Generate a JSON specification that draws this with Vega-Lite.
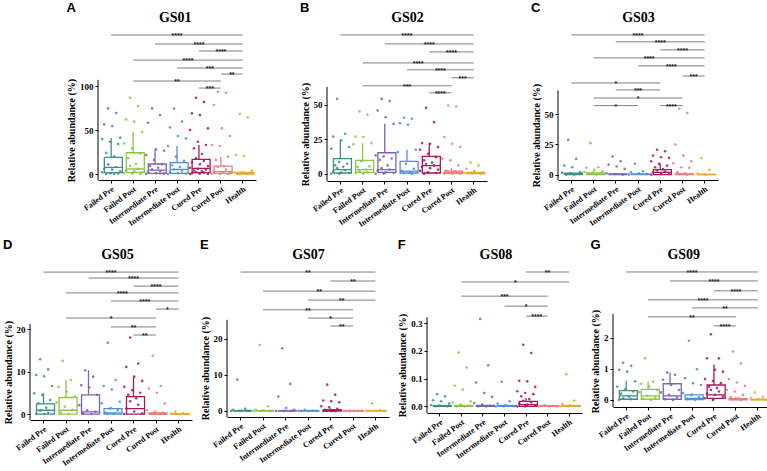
{
"$schema": "https://vega.github.io/schema/vega-lite/v6.json",
"background": "white",
"padding": {"left": 3, "top": 2, "right": 3, "bottom": 0},
"datasets": {
"pts": [
{"p":"A","g":1,"v":74.6,"k":3},{"p":"A","g":1,"v":69.3,"k":7},{"p":"A","g":1,"v":56.4,"k":1},{"p":"A","g":1,"v":54.5,"k":5},{"p":"A","g":1,"v":41.3,"k":9},{"p":"A","g":1,"v":39.8,"k":0},{"p":"A","g":1,"v":36.7,"k":4},{"p":"A","g":1,"v":34,"k":8},{"p":"A","g":1,"v":24,"k":2},{"p":"A","g":1,"v":20,"k":6},{"p":"A","g":1,"v":11,"k":3},{"p":"A","g":1,"v":8,"k":7},{"p":"A","g":1,"v":6,"k":1},{"p":"A","g":1,"v":5,"k":5},{"p":"A","g":1,"v":3,"k":9},{"p":"A","g":1,"v":2,"k":0},{"p":"A","g":1,"v":1,"k":4},{"p":"A","g":1,"v":0.5,"k":8},{"p":"A","g":1,"v":0,"k":2},{"p":"A","g":1,"v":0,"k":6},
{"p":"A","g":2,"v":86.7,"k":3},{"p":"A","g":2,"v":77.3,"k":7},{"p":"A","g":2,"v":62.1,"k":1},{"p":"A","g":2,"v":59.5,"k":5},{"p":"A","g":2,"v":47.7,"k":9},{"p":"A","g":2,"v":34.8,"k":0},{"p":"A","g":2,"v":29.2,"k":4},{"p":"A","g":2,"v":23.5,"k":8},{"p":"A","g":2,"v":18,"k":2},{"p":"A","g":2,"v":11.4,"k":6},{"p":"A","g":2,"v":9,"k":3},{"p":"A","g":2,"v":6,"k":7},{"p":"A","g":2,"v":4,"k":1},{"p":"A","g":2,"v":3,"k":5},{"p":"A","g":2,"v":1.5,"k":9},{"p":"A","g":2,"v":1,"k":0},{"p":"A","g":2,"v":0.5,"k":4},{"p":"A","g":2,"v":0,"k":8},
{"p":"A","g":3,"v":74.6,"k":3},{"p":"A","g":3,"v":67,"k":7},{"p":"A","g":3,"v":58.3,"k":1},{"p":"A","g":3,"v":28,"k":5},{"p":"A","g":3,"v":26.5,"k":9},{"p":"A","g":3,"v":21.6,"k":0},{"p":"A","g":3,"v":16,"k":4},{"p":"A","g":3,"v":11,"k":8},{"p":"A","g":3,"v":9,"k":2},{"p":"A","g":3,"v":7,"k":6},{"p":"A","g":3,"v":5,"k":3},{"p":"A","g":3,"v":3,"k":7},{"p":"A","g":3,"v":2,"k":1},{"p":"A","g":3,"v":1,"k":5},{"p":"A","g":3,"v":0.5,"k":9},{"p":"A","g":3,"v":0,"k":0},
{"p":"A","g":4,"v":74.6,"k":3},{"p":"A","g":4,"v":59.5,"k":7},{"p":"A","g":4,"v":53,"k":1},{"p":"A","g":4,"v":43.2,"k":5},{"p":"A","g":4,"v":40.5,"k":9},{"p":"A","g":4,"v":31.8,"k":0},{"p":"A","g":4,"v":19.7,"k":4},{"p":"A","g":4,"v":15,"k":8},{"p":"A","g":4,"v":10,"k":2},{"p":"A","g":4,"v":8,"k":6},{"p":"A","g":4,"v":5,"k":3},{"p":"A","g":4,"v":3,"k":7},{"p":"A","g":4,"v":2,"k":1},{"p":"A","g":4,"v":1,"k":5},{"p":"A","g":4,"v":0.5,"k":9},{"p":"A","g":4,"v":0,"k":0},
{"p":"A","g":5,"v":86.7,"k":3},{"p":"A","g":5,"v":82,"k":7},{"p":"A","g":5,"v":69,"k":1},{"p":"A","g":5,"v":67,"k":5},{"p":"A","g":5,"v":51.9,"k":9},{"p":"A","g":5,"v":50,"k":0},{"p":"A","g":5,"v":36.7,"k":4},{"p":"A","g":5,"v":33,"k":8},{"p":"A","g":5,"v":29.2,"k":2},{"p":"A","g":5,"v":22.7,"k":6},{"p":"A","g":5,"v":17.8,"k":3},{"p":"A","g":5,"v":15,"k":7},{"p":"A","g":5,"v":13,"k":1},{"p":"A","g":5,"v":11,"k":5},{"p":"A","g":5,"v":9,"k":9},{"p":"A","g":5,"v":7,"k":0},{"p":"A","g":5,"v":6,"k":4},{"p":"A","g":5,"v":5,"k":8},{"p":"A","g":5,"v":4,"k":2},{"p":"A","g":5,"v":3,"k":6},{"p":"A","g":5,"v":2,"k":3},{"p":"A","g":5,"v":1.5,"k":7},{"p":"A","g":5,"v":1,"k":1},{"p":"A","g":5,"v":0.5,"k":5},{"p":"A","g":5,"v":0,"k":9},{"p":"A","g":5,"v":0,"k":0},
{"p":"A","g":6,"v":93.6,"k":3},{"p":"A","g":6,"v":92.4,"k":7},{"p":"A","g":6,"v":78.4,"k":1},{"p":"A","g":6,"v":51.9,"k":5},{"p":"A","g":6,"v":43.2,"k":9},{"p":"A","g":6,"v":33,"k":0},{"p":"A","g":6,"v":31.8,"k":4},{"p":"A","g":6,"v":19.7,"k":8},{"p":"A","g":6,"v":16,"k":2},{"p":"A","g":6,"v":9,"k":6},{"p":"A","g":6,"v":8,"k":3},{"p":"A","g":6,"v":5,"k":7},{"p":"A","g":6,"v":3,"k":1},{"p":"A","g":6,"v":2,"k":5},{"p":"A","g":6,"v":1,"k":9},{"p":"A","g":6,"v":0.5,"k":0},{"p":"A","g":6,"v":0,"k":4},{"p":"A","g":6,"v":0,"k":8},
{"p":"A","g":7,"v":68.2,"k":3},{"p":"A","g":7,"v":64.4,"k":7},{"p":"A","g":7,"v":21.6,"k":1},{"p":"A","g":7,"v":20.5,"k":5},{"p":"A","g":7,"v":3.8,"k":9},{"p":"A","g":7,"v":2,"k":0},{"p":"A","g":7,"v":1.5,"k":4},{"p":"A","g":7,"v":1,"k":8},{"p":"A","g":7,"v":0.5,"k":2},{"p":"A","g":7,"v":0.3,"k":6},{"p":"A","g":7,"v":0,"k":3},{"p":"A","g":7,"v":0,"k":7},
{"p":"B","g":1,"v":54.3,"k":3},{"p":"B","g":1,"v":29,"k":7},{"p":"B","g":1,"v":27,"k":1},{"p":"B","g":1,"v":24.2,"k":5},{"p":"B","g":1,"v":19.3,"k":9},{"p":"B","g":1,"v":18.1,"k":0},{"p":"B","g":1,"v":8.5,"k":4},{"p":"B","g":1,"v":7.2,"k":8},{"p":"B","g":1,"v":6,"k":2},{"p":"B","g":1,"v":5,"k":6},{"p":"B","g":1,"v":4,"k":3},{"p":"B","g":1,"v":2.5,"k":7},{"p":"B","g":1,"v":1.5,"k":1},{"p":"B","g":1,"v":1,"k":5},{"p":"B","g":1,"v":0.5,"k":9},{"p":"B","g":1,"v":0,"k":0},{"p":"B","g":1,"v":0,"k":4},
{"p":"B","g":2,"v":45.2,"k":3},{"p":"B","g":2,"v":42.8,"k":7},{"p":"B","g":2,"v":27,"k":1},{"p":"B","g":2,"v":26.6,"k":5},{"p":"B","g":2,"v":22.2,"k":9},{"p":"B","g":2,"v":21.3,"k":0},{"p":"B","g":2,"v":9,"k":4},{"p":"B","g":2,"v":5.3,"k":8},{"p":"B","g":2,"v":5,"k":2},{"p":"B","g":2,"v":3,"k":6},{"p":"B","g":2,"v":2,"k":3},{"p":"B","g":2,"v":1,"k":7},{"p":"B","g":2,"v":0.5,"k":1},{"p":"B","g":2,"v":0,"k":5},
{"p":"B","g":3,"v":54.3,"k":3},{"p":"B","g":3,"v":52.7,"k":7},{"p":"B","g":3,"v":45.9,"k":1},{"p":"B","g":3,"v":41,"k":5},{"p":"B","g":3,"v":36.2,"k":9},{"p":"B","g":3,"v":13.3,"k":0},{"p":"B","g":3,"v":12.6,"k":4},{"p":"B","g":3,"v":11,"k":8},{"p":"B","g":3,"v":10,"k":2},{"p":"B","g":3,"v":6,"k":6},{"p":"B","g":3,"v":4,"k":3},{"p":"B","g":3,"v":3,"k":7},{"p":"B","g":3,"v":2,"k":1},{"p":"B","g":3,"v":1,"k":5},{"p":"B","g":3,"v":0.5,"k":9},{"p":"B","g":3,"v":0,"k":0},{"p":"B","g":3,"v":0,"k":4},
{"p":"B","g":4,"v":40.6,"k":3},{"p":"B","g":4,"v":39.9,"k":7},{"p":"B","g":4,"v":36.7,"k":1},{"p":"B","g":4,"v":35.5,"k":5},{"p":"B","g":4,"v":17.4,"k":9},{"p":"B","g":4,"v":15.7,"k":0},{"p":"B","g":4,"v":7.2,"k":4},{"p":"B","g":4,"v":3.6,"k":8},{"p":"B","g":4,"v":2,"k":2},{"p":"B","g":4,"v":1,"k":6},{"p":"B","g":4,"v":0.5,"k":3},{"p":"B","g":4,"v":0,"k":7},
{"p":"B","g":5,"v":47.8,"k":3},{"p":"B","g":5,"v":37.4,"k":7},{"p":"B","g":5,"v":22.2,"k":1},{"p":"B","g":5,"v":21.7,"k":5},{"p":"B","g":5,"v":19.3,"k":9},{"p":"B","g":5,"v":17.4,"k":0},{"p":"B","g":5,"v":14.5,"k":4},{"p":"B","g":5,"v":12,"k":8},{"p":"B","g":5,"v":9.7,"k":2},{"p":"B","g":5,"v":8,"k":6},{"p":"B","g":5,"v":7,"k":3},{"p":"B","g":5,"v":6,"k":7},{"p":"B","g":5,"v":5,"k":1},{"p":"B","g":5,"v":4,"k":5},{"p":"B","g":5,"v":3,"k":9},{"p":"B","g":5,"v":2,"k":0},{"p":"B","g":5,"v":1,"k":4},{"p":"B","g":5,"v":0.5,"k":8},{"p":"B","g":5,"v":0,"k":2},
{"p":"B","g":6,"v":49.5,"k":3},{"p":"B","g":6,"v":48.8,"k":7},{"p":"B","g":6,"v":26.6,"k":1},{"p":"B","g":6,"v":21.7,"k":5},{"p":"B","g":6,"v":19.3,"k":9},{"p":"B","g":6,"v":10.9,"k":0},{"p":"B","g":6,"v":9.7,"k":4},{"p":"B","g":6,"v":6,"k":8},{"p":"B","g":6,"v":2,"k":2},{"p":"B","g":6,"v":1.5,"k":6},{"p":"B","g":6,"v":1,"k":3},{"p":"B","g":6,"v":0.5,"k":7},{"p":"B","g":6,"v":0.2,"k":1},{"p":"B","g":6,"v":0,"k":5},{"p":"B","g":6,"v":0,"k":9},
{"p":"B","g":7,"v":8,"k":3},{"p":"B","g":7,"v":6,"k":7},{"p":"B","g":7,"v":3.6,"k":1},{"p":"B","g":7,"v":1.9,"k":5},{"p":"B","g":7,"v":1,"k":9},{"p":"B","g":7,"v":0.5,"k":0},{"p":"B","g":7,"v":0.2,"k":4},{"p":"B","g":7,"v":0,"k":8},
{"p":"C","g":1,"v":28.9,"k":3},{"p":"C","g":1,"v":13,"k":7},{"p":"C","g":1,"v":7.5,"k":1},{"p":"C","g":1,"v":6.1,"k":5},{"p":"C","g":1,"v":2,"k":9},{"p":"C","g":1,"v":1.5,"k":0},{"p":"C","g":1,"v":1,"k":4},{"p":"C","g":1,"v":0.5,"k":8},{"p":"C","g":1,"v":0,"k":2},{"p":"C","g":1,"v":0,"k":6},
{"p":"C","g":2,"v":26.1,"k":3},{"p":"C","g":2,"v":6.1,"k":7},{"p":"C","g":2,"v":5.6,"k":1},{"p":"C","g":2,"v":3.9,"k":5},{"p":"C","g":2,"v":2.5,"k":9},{"p":"C","g":2,"v":2,"k":0},{"p":"C","g":2,"v":1.5,"k":4},{"p":"C","g":2,"v":1,"k":8},{"p":"C","g":2,"v":0.5,"k":2},{"p":"C","g":2,"v":0,"k":6},
{"p":"C","g":3,"v":15,"k":3},{"p":"C","g":3,"v":11.1,"k":7},{"p":"C","g":3,"v":8.3,"k":1},{"p":"C","g":3,"v":6.7,"k":5},{"p":"C","g":3,"v":4.7,"k":9},{"p":"C","g":3,"v":1,"k":0},{"p":"C","g":3,"v":0.5,"k":4},{"p":"C","g":3,"v":0,"k":8},
{"p":"C","g":4,"v":8.9,"k":3},{"p":"C","g":4,"v":2.8,"k":7},{"p":"C","g":4,"v":1.9,"k":1},{"p":"C","g":4,"v":1,"k":5},{"p":"C","g":4,"v":0.5,"k":9},{"p":"C","g":4,"v":0,"k":0},
{"p":"C","g":5,"v":20.6,"k":3},{"p":"C","g":5,"v":19.4,"k":7},{"p":"C","g":5,"v":15.8,"k":1},{"p":"C","g":5,"v":14.4,"k":5},{"p":"C","g":5,"v":13.9,"k":9},{"p":"C","g":5,"v":11.1,"k":0},{"p":"C","g":5,"v":8.9,"k":4},{"p":"C","g":5,"v":7.5,"k":8},{"p":"C","g":5,"v":6.1,"k":2},{"p":"C","g":5,"v":4.5,"k":6},{"p":"C","g":5,"v":3.5,"k":3},{"p":"C","g":5,"v":2.5,"k":7},{"p":"C","g":5,"v":1.9,"k":1},{"p":"C","g":5,"v":1,"k":5},{"p":"C","g":5,"v":0.5,"k":9},{"p":"C","g":5,"v":0,"k":0},
{"p":"C","g":6,"v":54.7,"k":3},{"p":"C","g":6,"v":51.1,"k":7},{"p":"C","g":6,"v":25,"k":1},{"p":"C","g":6,"v":15.8,"k":5},{"p":"C","g":6,"v":11.1,"k":9},{"p":"C","g":6,"v":9.4,"k":0},{"p":"C","g":6,"v":6.1,"k":4},{"p":"C","g":6,"v":5.6,"k":8},{"p":"C","g":6,"v":2,"k":2},{"p":"C","g":6,"v":1,"k":6},{"p":"C","g":6,"v":0.5,"k":3},{"p":"C","g":6,"v":0,"k":7},
{"p":"C","g":7,"v":13.6,"k":3},{"p":"C","g":7,"v":3.9,"k":7},{"p":"C","g":7,"v":1,"k":1},{"p":"C","g":7,"v":0,"k":5},
{"p":"D","g":1,"v":12.9,"k":3},{"p":"D","g":1,"v":10.5,"k":7},{"p":"D","g":1,"v":9.2,"k":1},{"p":"D","g":1,"v":8.9,"k":5},{"p":"D","g":1,"v":6.6,"k":9},{"p":"D","g":1,"v":4.9,"k":0},{"p":"D","g":1,"v":4.5,"k":4},{"p":"D","g":1,"v":3.3,"k":8},{"p":"D","g":1,"v":2.5,"k":2},{"p":"D","g":1,"v":1.5,"k":6},{"p":"D","g":1,"v":0.8,"k":3},{"p":"D","g":1,"v":0.3,"k":7},{"p":"D","g":1,"v":0,"k":1},{"p":"D","g":1,"v":0,"k":5},
{"p":"D","g":2,"v":12.5,"k":3},{"p":"D","g":2,"v":8,"k":7},{"p":"D","g":2,"v":6.4,"k":1},{"p":"D","g":2,"v":5.3,"k":5},{"p":"D","g":2,"v":4.1,"k":9},{"p":"D","g":2,"v":2.7,"k":0},{"p":"D","g":2,"v":1.7,"k":4},{"p":"D","g":2,"v":1,"k":8},{"p":"D","g":2,"v":0.3,"k":2},{"p":"D","g":2,"v":0,"k":6},
{"p":"D","g":3,"v":10.3,"k":3},{"p":"D","g":3,"v":8.8,"k":7},{"p":"D","g":3,"v":6.8,"k":1},{"p":"D","g":3,"v":6.3,"k":5},{"p":"D","g":3,"v":4.5,"k":9},{"p":"D","g":3,"v":2.1,"k":0},{"p":"D","g":3,"v":0.9,"k":4},{"p":"D","g":3,"v":0.5,"k":8},{"p":"D","g":3,"v":0.2,"k":2},{"p":"D","g":3,"v":0,"k":6},
{"p":"D","g":4,"v":16.8,"k":3},{"p":"D","g":4,"v":8,"k":7},{"p":"D","g":4,"v":6.6,"k":1},{"p":"D","g":4,"v":5.8,"k":5},{"p":"D","g":4,"v":2.9,"k":9},{"p":"D","g":4,"v":2.5,"k":0},{"p":"D","g":4,"v":1.3,"k":4},{"p":"D","g":4,"v":0.9,"k":8},{"p":"D","g":4,"v":0.3,"k":2},{"p":"D","g":4,"v":0,"k":6},{"p":"D","g":4,"v":0,"k":3},
{"p":"D","g":5,"v":18,"k":3},{"p":"D","g":5,"v":11.9,"k":7},{"p":"D","g":5,"v":11.1,"k":1},{"p":"D","g":5,"v":8.8,"k":5},{"p":"D","g":5,"v":7.8,"k":9},{"p":"D","g":5,"v":6.4,"k":0},{"p":"D","g":5,"v":5.6,"k":4},{"p":"D","g":5,"v":5,"k":8},{"p":"D","g":5,"v":4.5,"k":2},{"p":"D","g":5,"v":3.7,"k":6},{"p":"D","g":5,"v":3,"k":3},{"p":"D","g":5,"v":2.2,"k":7},{"p":"D","g":5,"v":1.3,"k":1},{"p":"D","g":5,"v":0.6,"k":5},{"p":"D","g":5,"v":0.2,"k":9},{"p":"D","g":5,"v":0,"k":0},
{"p":"D","g":6,"v":13.7,"k":3},{"p":"D","g":6,"v":6.6,"k":7},{"p":"D","g":6,"v":6,"k":1},{"p":"D","g":6,"v":5,"k":5},{"p":"D","g":6,"v":2.5,"k":9},{"p":"D","g":6,"v":0.9,"k":0},{"p":"D","g":6,"v":0.5,"k":4},{"p":"D","g":6,"v":0.3,"k":8},{"p":"D","g":6,"v":0.1,"k":2},{"p":"D","g":6,"v":0,"k":6},{"p":"D","g":6,"v":0,"k":3},
{"p":"D","g":7,"v":0.5,"k":3},{"p":"D","g":7,"v":0.2,"k":7},{"p":"D","g":7,"v":0.1,"k":1},{"p":"D","g":7,"v":0,"k":5},{"p":"D","g":7,"v":0,"k":9},
{"p":"E","g":1,"v":8.7,"k":3},{"p":"E","g":1,"v":0.6,"k":7},{"p":"E","g":1,"v":0.3,"k":1},{"p":"E","g":1,"v":0.1,"k":5},{"p":"E","g":1,"v":0,"k":9},{"p":"E","g":1,"v":0,"k":0},{"p":"E","g":1,"v":0,"k":4},{"p":"E","g":1,"v":0,"k":8},
{"p":"E","g":2,"v":18.3,"k":3},{"p":"E","g":2,"v":1.3,"k":7},{"p":"E","g":2,"v":0.3,"k":1},{"p":"E","g":2,"v":0.1,"k":5},{"p":"E","g":2,"v":0,"k":9},{"p":"E","g":2,"v":0,"k":0},{"p":"E","g":2,"v":0,"k":4},{"p":"E","g":2,"v":0,"k":8},
{"p":"E","g":3,"v":17.4,"k":3},{"p":"E","g":3,"v":7.5,"k":7},{"p":"E","g":3,"v":4,"k":1},{"p":"E","g":3,"v":0.8,"k":5},{"p":"E","g":3,"v":0.3,"k":9},{"p":"E","g":3,"v":0,"k":0},{"p":"E","g":3,"v":0,"k":4},{"p":"E","g":3,"v":0,"k":8},
{"p":"E","g":4,"v":0.3,"k":3},{"p":"E","g":4,"v":0.1,"k":7},{"p":"E","g":4,"v":0,"k":1},{"p":"E","g":4,"v":0,"k":5},{"p":"E","g":4,"v":0,"k":9},{"p":"E","g":4,"v":0,"k":0},
{"p":"E","g":5,"v":7.3,"k":3},{"p":"E","g":5,"v":4.5,"k":7},{"p":"E","g":5,"v":2.9,"k":1},{"p":"E","g":5,"v":2.7,"k":5},{"p":"E","g":5,"v":2.4,"k":9},{"p":"E","g":5,"v":1.3,"k":0},{"p":"E","g":5,"v":1,"k":4},{"p":"E","g":5,"v":0.6,"k":8},{"p":"E","g":5,"v":0.3,"k":2},{"p":"E","g":5,"v":0.1,"k":6},{"p":"E","g":5,"v":0,"k":3},{"p":"E","g":5,"v":0,"k":7},{"p":"E","g":5,"v":0,"k":1},{"p":"E","g":5,"v":0,"k":5},
{"p":"E","g":6,"v":0,"k":3},{"p":"E","g":6,"v":0,"k":7},{"p":"E","g":6,"v":0,"k":1},{"p":"E","g":6,"v":0,"k":5},{"p":"E","g":6,"v":0,"k":9},{"p":"E","g":6,"v":0,"k":0},
{"p":"E","g":7,"v":2.1,"k":3},{"p":"E","g":7,"v":0.2,"k":7},{"p":"E","g":7,"v":0,"k":1},{"p":"E","g":7,"v":0,"k":5},{"p":"E","g":7,"v":0,"k":9},{"p":"E","g":7,"v":0,"k":0},
{"p":"F","g":1,"v":0.044,"k":3},{"p":"F","g":1,"v":0.036,"k":7},{"p":"F","g":1,"v":0.022,"k":1},{"p":"F","g":1,"v":0.018,"k":5},{"p":"F","g":1,"v":0.01,"k":9},{"p":"F","g":1,"v":0.005,"k":0},{"p":"F","g":1,"v":0.002,"k":4},{"p":"F","g":1,"v":0,"k":8},{"p":"F","g":1,"v":0,"k":2},
{"p":"F","g":2,"v":0.194,"k":3},{"p":"F","g":2,"v":0.14,"k":7},{"p":"F","g":2,"v":0.074,"k":1},{"p":"F","g":2,"v":0.06,"k":5},{"p":"F","g":2,"v":0.018,"k":9},{"p":"F","g":2,"v":0.014,"k":0},{"p":"F","g":2,"v":0.006,"k":4},{"p":"F","g":2,"v":0.002,"k":8},{"p":"F","g":2,"v":0,"k":2},{"p":"F","g":2,"v":0,"k":6},
{"p":"F","g":3,"v":0.315,"k":3},{"p":"F","g":3,"v":0.148,"k":7},{"p":"F","g":3,"v":0.086,"k":1},{"p":"F","g":3,"v":0.048,"k":5},{"p":"F","g":3,"v":0.034,"k":9},{"p":"F","g":3,"v":0.012,"k":0},{"p":"F","g":3,"v":0.006,"k":4},{"p":"F","g":3,"v":0.002,"k":8},{"p":"F","g":3,"v":0,"k":2},{"p":"F","g":3,"v":0,"k":6},
{"p":"F","g":4,"v":0.088,"k":3},{"p":"F","g":4,"v":0.018,"k":7},{"p":"F","g":4,"v":0.01,"k":1},{"p":"F","g":4,"v":0.004,"k":5},{"p":"F","g":4,"v":0.001,"k":9},{"p":"F","g":4,"v":0,"k":0},{"p":"F","g":4,"v":0,"k":4},
{"p":"F","g":5,"v":0.222,"k":3},{"p":"F","g":5,"v":0.192,"k":7},{"p":"F","g":5,"v":0.092,"k":1},{"p":"F","g":5,"v":0.09,"k":5},{"p":"F","g":5,"v":0.07,"k":9},{"p":"F","g":5,"v":0.054,"k":0},{"p":"F","g":5,"v":0.048,"k":4},{"p":"F","g":5,"v":0.044,"k":8},{"p":"F","g":5,"v":0.036,"k":2},{"p":"F","g":5,"v":0.026,"k":6},{"p":"F","g":5,"v":0.02,"k":3},{"p":"F","g":5,"v":0.015,"k":7},{"p":"F","g":5,"v":0.01,"k":1},{"p":"F","g":5,"v":0.006,"k":5},{"p":"F","g":5,"v":0.003,"k":9},{"p":"F","g":5,"v":0,"k":0},{"p":"F","g":5,"v":0,"k":4},
{"p":"F","g":6,"v":0.004,"k":3},{"p":"F","g":6,"v":0.002,"k":7},{"p":"F","g":6,"v":0.001,"k":1},{"p":"F","g":6,"v":0,"k":5},{"p":"F","g":6,"v":0,"k":9},{"p":"F","g":6,"v":0,"k":0},
{"p":"F","g":7,"v":0.116,"k":3},{"p":"F","g":7,"v":0.02,"k":7},{"p":"F","g":7,"v":0.008,"k":1},{"p":"F","g":7,"v":0.004,"k":5},{"p":"F","g":7,"v":0.001,"k":9},{"p":"F","g":7,"v":0,"k":0},{"p":"F","g":7,"v":0,"k":4},
{"p":"G","g":1,"v":1.2,"k":3},{"p":"G","g":1,"v":1.1,"k":7},{"p":"G","g":1,"v":0.97,"k":1},{"p":"G","g":1,"v":0.91,"k":5},{"p":"G","g":1,"v":0.6,"k":9},{"p":"G","g":1,"v":0.43,"k":0},{"p":"G","g":1,"v":0.34,"k":4},{"p":"G","g":1,"v":0.27,"k":8},{"p":"G","g":1,"v":0.2,"k":2},{"p":"G","g":1,"v":0.1,"k":6},{"p":"G","g":1,"v":0.05,"k":3},{"p":"G","g":1,"v":0.02,"k":7},{"p":"G","g":1,"v":0,"k":1},
{"p":"G","g":2,"v":1.34,"k":3},{"p":"G","g":2,"v":0.59,"k":7},{"p":"G","g":2,"v":0.52,"k":1},{"p":"G","g":2,"v":0.43,"k":5},{"p":"G","g":2,"v":0.32,"k":9},{"p":"G","g":2,"v":0.25,"k":0},{"p":"G","g":2,"v":0.13,"k":4},{"p":"G","g":2,"v":0.08,"k":8},{"p":"G","g":2,"v":0.03,"k":2},{"p":"G","g":2,"v":0,"k":6},
{"p":"G","g":3,"v":0.88,"k":3},{"p":"G","g":3,"v":0.81,"k":7},{"p":"G","g":3,"v":0.65,"k":1},{"p":"G","g":3,"v":0.48,"k":5},{"p":"G","g":3,"v":0.32,"k":9},{"p":"G","g":3,"v":0.24,"k":0},{"p":"G","g":3,"v":0.16,"k":4},{"p":"G","g":3,"v":0.08,"k":8},{"p":"G","g":3,"v":0.02,"k":2},{"p":"G","g":3,"v":0,"k":6},
{"p":"G","g":4,"v":1.91,"k":3},{"p":"G","g":4,"v":0.99,"k":7},{"p":"G","g":4,"v":0.7,"k":1},{"p":"G","g":4,"v":0.54,"k":5},{"p":"G","g":4,"v":0.48,"k":9},{"p":"G","g":4,"v":0.22,"k":0},{"p":"G","g":4,"v":0.15,"k":4},{"p":"G","g":4,"v":0.08,"k":8},{"p":"G","g":4,"v":0.02,"k":2},{"p":"G","g":4,"v":0,"k":6},
{"p":"G","g":5,"v":2.12,"k":3},{"p":"G","g":5,"v":1.34,"k":7},{"p":"G","g":5,"v":1.34,"k":1},{"p":"G","g":5,"v":0.97,"k":5},{"p":"G","g":5,"v":0.91,"k":9},{"p":"G","g":5,"v":0.67,"k":0},{"p":"G","g":5,"v":0.61,"k":4},{"p":"G","g":5,"v":0.54,"k":8},{"p":"G","g":5,"v":0.43,"k":2},{"p":"G","g":5,"v":0.38,"k":6},{"p":"G","g":5,"v":0.32,"k":3},{"p":"G","g":5,"v":0.27,"k":7},{"p":"G","g":5,"v":0.2,"k":1},{"p":"G","g":5,"v":0.16,"k":5},{"p":"G","g":5,"v":0.1,"k":9},{"p":"G","g":5,"v":0.05,"k":0},{"p":"G","g":5,"v":0,"k":4},
{"p":"G","g":6,"v":1.56,"k":3},{"p":"G","g":6,"v":1.18,"k":7},{"p":"G","g":6,"v":0.67,"k":1},{"p":"G","g":6,"v":0.56,"k":5},{"p":"G","g":6,"v":0.45,"k":9},{"p":"G","g":6,"v":0.32,"k":0},{"p":"G","g":6,"v":0.27,"k":4},{"p":"G","g":6,"v":0.16,"k":8},{"p":"G","g":6,"v":0.08,"k":2},{"p":"G","g":6,"v":0.05,"k":6},{"p":"G","g":6,"v":0.02,"k":3},{"p":"G","g":6,"v":0,"k":7},
{"p":"G","g":7,"v":0.24,"k":3},{"p":"G","g":7,"v":0.09,"k":7},{"p":"G","g":7,"v":0.05,"k":1},{"p":"G","g":7,"v":0.02,"k":5},{"p":"G","g":7,"v":0,"k":9}
],
"box": [
{"p":"A","g":1,"lo":0,"q1":1.5,"md":7.5,"q3":19,"hi":41},{"p":"A","g":2,"lo":0,"q1":1.9,"md":5.7,"q3":24.2,"hi":47.7},{"p":"A","g":3,"lo":0,"q1":0.8,"md":4.5,"q3":11.4,"hi":28},{"p":"A","g":4,"lo":0,"q1":0.8,"md":5.3,"q3":12.9,"hi":31.8},{"p":"A","g":5,"lo":0,"q1":1.5,"md":6.4,"q3":16.7,"hi":33},{"p":"A","g":6,"lo":0,"q1":0.8,"md":2.7,"q3":9,"hi":19.7},{"p":"A","g":7,"lo":0,"q1":0,"md":0.8,"q3":1.9,"hi":3.8},
{"p":"B","g":1,"lo":0,"q1":0.5,"md":2.9,"q3":10.9,"hi":24.2},{"p":"B","g":2,"lo":0,"q1":1,"md":2.9,"q3":9.7,"hi":22.2},{"p":"B","g":3,"lo":0,"q1":1,"md":2.9,"q3":15.2,"hi":36.2},{"p":"B","g":4,"lo":0,"q1":0.5,"md":1.9,"q3":8.9,"hi":17.4},{"p":"B","g":5,"lo":0,"q1":0.5,"md":5.8,"q3":12.6,"hi":22.2},{"p":"B","g":6,"lo":0,"q1":0.2,"md":1,"q3":1.9,"hi":4},{"p":"B","g":7,"lo":0,"q1":0,"md":0.5,"q3":1,"hi":2},
{"p":"C","g":1,"lo":0,"q1":0,"md":0.3,"q3":1.1,"hi":2},{"p":"C","g":2,"lo":0,"q1":0,"md":0.5,"q3":1.4,"hi":3},{"p":"C","g":3,"lo":0,"q1":0,"md":0.2,"q3":0.6,"hi":1.3},{"p":"C","g":4,"lo":0,"q1":0,"md":0.2,"q3":0.5,"hi":1},{"p":"C","g":5,"lo":0,"q1":0,"md":1.9,"q3":4.2,"hi":8.9},{"p":"C","g":6,"lo":0,"q1":0,"md":0.2,"q3":0.6,"hi":1.5},{"p":"C","g":7,"lo":0,"q1":0,"md":0,"q3":0.3,"hi":0.6},
{"p":"D","g":1,"lo":0,"q1":0,"md":0.9,"q3":2.4,"hi":4.9},{"p":"D","g":2,"lo":0,"q1":0,"md":0.9,"q3":3.9,"hi":8},{"p":"D","g":3,"lo":0,"q1":0,"md":0.5,"q3":4.5,"hi":10.3},{"p":"D","g":4,"lo":0,"q1":0,"md":0.3,"q3":1.3,"hi":1.7},{"p":"D","g":5,"lo":0,"q1":0,"md":1.3,"q3":4.1,"hi":8.8},{"p":"D","g":6,"lo":0,"q1":0,"md":0,"q3":0.3,"hi":0.6},{"p":"D","g":7,"lo":0,"q1":0,"md":0,"q3":0.1,"hi":0.2},
{"p":"E","g":1,"lo":0,"q1":0,"md":0,"q3":0.05,"hi":0.1},{"p":"E","g":2,"lo":0,"q1":0,"md":0,"q3":0.05,"hi":0.1},{"p":"E","g":3,"lo":0,"q1":0,"md":0,"q3":0.05,"hi":0.1},{"p":"E","g":4,"lo":0,"q1":0,"md":0,"q3":0.05,"hi":0.1},{"p":"E","g":5,"lo":0,"q1":0,"md":0,"q3":0.3,"hi":0.7},{"p":"E","g":6,"lo":0,"q1":0,"md":0,"q3":0,"hi":0},{"p":"E","g":7,"lo":0,"q1":0,"md":0,"q3":0.05,"hi":0.1},
{"p":"F","g":1,"lo":0,"q1":0,"md":0.001,"q3":0.003,"hi":0.006},{"p":"F","g":2,"lo":0,"q1":0,"md":0.001,"q3":0.003,"hi":0.006},{"p":"F","g":3,"lo":0,"q1":0,"md":0.001,"q3":0.003,"hi":0.006},{"p":"F","g":4,"lo":0,"q1":0,"md":0.001,"q3":0.003,"hi":0.006},{"p":"F","g":5,"lo":0,"q1":0,"md":0.006,"q3":0.018,"hi":0.03},{"p":"F","g":6,"lo":0,"q1":0,"md":0.001,"q3":0.002,"hi":0.004},{"p":"F","g":7,"lo":0,"q1":0,"md":0.001,"q3":0.003,"hi":0.006},
{"p":"G","g":1,"lo":0,"q1":0.02,"md":0.13,"q3":0.3,"hi":0.62},{"p":"G","g":2,"lo":0,"q1":0.02,"md":0.13,"q3":0.34,"hi":0.59},{"p":"G","g":3,"lo":0,"q1":0.02,"md":0.13,"q3":0.52,"hi":0.88},{"p":"G","g":4,"lo":0,"q1":0.01,"md":0.05,"q3":0.16,"hi":0.22},{"p":"G","g":5,"lo":0,"q1":0.05,"md":0.16,"q3":0.48,"hi":1.14},{"p":"G","g":6,"lo":0,"q1":0,"md":0.02,"q3":0.04,"hi":0.1},{"p":"G","g":7,"lo":0,"q1":0,"md":0.01,"q3":0.02,"hi":0.05}
],
"br": [
{"p":"A","a":1,"b":7,"y":158,"s":"****"},{"p":"A","a":3,"b":7,"y":147.7,"s":"****"},{"p":"A","a":5,"b":7,"y":139.8,"s":"****"},{"p":"A","a":2,"b":7,"y":129.5,"s":"****"},{"p":"A","a":4,"b":7,"y":120.5,"s":"***"},{"p":"A","a":6,"b":7,"y":113.6,"s":"**"},{"p":"A","a":2,"b":6,"y":105.7,"s":"**"},{"p":"A","a":5,"b":6,"y":97.7,"s":"***"},
{"p":"B","a":1,"b":7,"y":100.7,"s":"****"},{"p":"B","a":3,"b":7,"y":94.2,"s":"****"},{"p":"B","a":5,"b":7,"y":88.4,"s":"****"},{"p":"B","a":2,"b":7,"y":80.4,"s":"****"},{"p":"B","a":4,"b":7,"y":75.4,"s":"****"},{"p":"B","a":6,"b":7,"y":69.6,"s":"***"},{"p":"B","a":2,"b":6,"y":63.8,"s":"***"},{"p":"B","a":5,"b":6,"y":58.7,"s":"****"},
{"p":"C","a":1,"b":7,"y":116,"s":"****"},{"p":"C","a":3,"b":7,"y":110.3,"s":"****"},{"p":"C","a":5,"b":7,"y":103.6,"s":"****"},{"p":"C","a":2,"b":7,"y":96.9,"s":"****"},{"p":"C","a":4,"b":7,"y":90.3,"s":"****"},{"p":"C","a":6,"b":7,"y":81.9,"s":"***"},{"p":"C","a":1,"b":5,"y":76.1,"s":"*"},{"p":"C","a":3,"b":5,"y":70.3,"s":"***"},{"p":"C","a":2,"b":6,"y":63.6,"s":"*"},{"p":"C","a":2,"b":4,"y":57.3,"s":"*"},{"p":"C","a":5,"b":6,"y":57.3,"s":"****"},
{"p":"D","a":1,"b":7,"y":33.4,"s":"****"},{"p":"D","a":3,"b":7,"y":32,"s":"****"},{"p":"D","a":5,"b":7,"y":30.1,"s":"****"},{"p":"D","a":2,"b":7,"y":28.5,"s":"****"},{"p":"D","a":4,"b":7,"y":26.6,"s":"****"},{"p":"D","a":6,"b":7,"y":24.7,"s":"*"},{"p":"D","a":2,"b":6,"y":22.6,"s":"*"},{"p":"D","a":4,"b":6,"y":20.5,"s":"**"},{"p":"D","a":5,"b":6,"y":18.6,"s":"**"},
{"p":"E","a":1,"b":7,"y":38.6,"s":"**"},{"p":"E","a":5,"b":7,"y":36.1,"s":"**"},{"p":"E","a":2,"b":7,"y":33.3,"s":"**"},{"p":"E","a":4,"b":7,"y":30.8,"s":"**"},{"p":"E","a":2,"b":6,"y":28.1,"s":"**"},{"p":"E","a":4,"b":6,"y":25.8,"s":"*"},{"p":"E","a":5,"b":6,"y":23.6,"s":"**"},
{"p":"F","a":5,"b":7,"y":0.484,"s":"**"},{"p":"F","a":2,"b":7,"y":0.448,"s":"*"},{"p":"F","a":2,"b":6,"y":0.397,"s":"***"},{"p":"F","a":4,"b":6,"y":0.361,"s":"*"},{"p":"F","a":5,"b":6,"y":0.325,"s":"****"},
{"p":"G","a":1,"b":7,"y":4.13,"s":"****"},{"p":"G","a":3,"b":7,"y":3.84,"s":"****"},{"p":"G","a":5,"b":7,"y":3.52,"s":"****"},{"p":"G","a":2,"b":7,"y":3.23,"s":"****"},{"p":"G","a":4,"b":7,"y":2.97,"s":"**"},{"p":"G","a":2,"b":6,"y":2.68,"s":"**"},{"p":"G","a":5,"b":6,"y":2.39,"s":"****"}
],
"ax": [
{"p":"A","lo":-6.8,"hi":107},{"p":"B","lo":-5.3,"hi":63},{"p":"C","lo":-4.5,"hi":70},{"p":"D","lo":-1.4,"hi":21.2},{"p":"E","lo":-1.7,"hi":25.3},{"p":"F","lo":-0.024,"hi":0.321},{"p":"G","lo":-0.23,"hi":2.77}
]
},
"vconcat": [
{"hconcat": [
{"data": {"values": [{}]}, "width": 1, "height": 10, "mark": {"type": "text", "text": " "}, "encoding": {}},
{"hconcat": [
{"title": {"text": "A", "anchor": "start", "font": "Liberation Sans, Arial, sans-serif", "fontSize": 13, "fontWeight": "bold", "offset": -4},
 "vconcat": [{"title": {"text": "GS01", "anchor": "middle", "dx": 14, "font": "Liberation Serif, Times New Roman, serif", "fontSize": 14, "fontWeight": "bold", "offset": 5},
  "vconcat": [{"width": 158, "height": 150,
  "resolve": {"scale": {"x": "independent"}},
  "layer": [
   {"data": {"name": "box"}, "transform": [{"filter": "datum.p==='A'"}], "mark": {"type": "bar", "fill": "transparent", "strokeWidth": 1.3, "width": {"band": 0.62}},
    "encoding": {"x": {"field": "g", "type": "ordinal", "scale": {"domain": [1,2,3,4,5,6,7], "paddingInner": 0, "paddingOuter": 0.1}, "axis": {"title": null, "labelAngle": -36, "labelFontSize": 8, "labelExpr": "['Failed Pre','Failed Post','Intermediate Pre','Intermediate Post','Cured Pre','Cured Post','Health'][datum.value-1]"}},
     "y": {"field": "q1", "type": "quantitative", "title": "Relative abundance (%)", "scale": {"domain": [-6.8, 163.7], "nice": false, "zero": false}, "axis": {"values": [0, 50, 100], "domain": false, "titleY": 100}},
     "y2": {"field": "q3"},
     "stroke": {"field": "g", "type": "nominal", "scale": {"domain": [1,2,3,4,5,6,7], "range": ["#3f8f86","#8dc63f","#7a62b6","#4d8fd8","#a31a5c","#ee7b7b","#e6aa2f"]}, "legend": null}}},
   {"data": {"name": "box"}, "transform": [{"filter": "datum.p==='A'"}], "mark": {"type": "bar", "fill": "transparent", "strokeWidth": 1.3, "width": {"band": 0.62}},
    "encoding": {"x": {"field": "g", "type": "ordinal", "scale": {"domain": [1,2,3,4,5,6,7], "paddingInner": 0, "paddingOuter": 0.1}, "axis": null},
     "y": {"field": "md", "type": "quantitative", "title": "Relative abundance (%)", "scale": {"domain": [-6.8, 163.7], "nice": false, "zero": false}},
     "y2": {"field": "md"},
     "stroke": {"field": "g", "type": "nominal", "scale": {"domain": [1,2,3,4,5,6,7], "range": ["#3f8f86","#8dc63f","#7a62b6","#4d8fd8","#a31a5c","#ee7b7b","#e6aa2f"]}, "legend": null}}},
   {"data": {"name": "box"}, "transform": [{"filter": "datum.p==='A'"}], "mark": {"type": "rule", "strokeWidth": 1.3},
    "encoding": {"x": {"field": "g", "type": "ordinal", "scale": {"domain": [1,2,3,4,5,6,7], "paddingInner": 0, "paddingOuter": 0.1}, "axis": null},
     "y": {"field": "lo", "type": "quantitative", "title": "Relative abundance (%)", "scale": {"domain": [-6.8, 163.7], "nice": false, "zero": false}},
     "y2": {"field": "q1"},
     "color": {"field": "g", "type": "nominal", "scale": {"domain": [1,2,3,4,5,6,7], "range": ["#3f8f86","#8dc63f","#7a62b6","#4d8fd8","#a31a5c","#ee7b7b","#e6aa2f"]}, "legend": null}}},
   {"data": {"name": "box"}, "transform": [{"filter": "datum.p==='A'"}], "mark": {"type": "rule", "strokeWidth": 1.3},
    "encoding": {"x": {"field": "g", "type": "ordinal", "scale": {"domain": [1,2,3,4,5,6,7], "paddingInner": 0, "paddingOuter": 0.1}, "axis": null},
     "y": {"field": "q3", "type": "quantitative", "title": "Relative abundance (%)", "scale": {"domain": [-6.8, 163.7], "nice": false, "zero": false}},
     "y2": {"field": "hi"},
     "color": {"field": "g", "type": "nominal", "scale": {"domain": [1,2,3,4,5,6,7], "range": ["#3f8f86","#8dc63f","#7a62b6","#4d8fd8","#a31a5c","#ee7b7b","#e6aa2f"]}, "legend": null}}},
   {"data": {"name": "pts"}, "transform": [{"filter": "datum.p==='A'"}], "mark": {"type": "point", "filled": true, "size": 7, "opacity": 0.85},
    "encoding": {"x": {"field": "g", "type": "ordinal", "scale": {"domain": [1,2,3,4,5,6,7], "paddingInner": 0, "paddingOuter": 0.1}, "axis": null},
     "xOffset": {"field": "k", "type": "ordinal", "scale": {"type": "point", "domain": [0,1,2,3,4,5,6,7,8,9], "padding": 3}},
     "y": {"field": "v", "type": "quantitative", "title": "Relative abundance (%)", "scale": {"domain": [-6.8, 163.7], "nice": false, "zero": false}},
     "color": {"field": "g", "type": "nominal", "scale": {"domain": [1,2,3,4,5,6,7], "range": ["#3f8f86","#8dc63f","#7a62b6","#4d8fd8","#a31a5c","#ee7b7b","#e6aa2f"]}, "legend": null}}},
   {"data": {"name": "ax"}, "transform": [{"filter": "datum.p==='A'"}], "mark": {"type": "rule", "color": "#000", "strokeWidth": 1},
    "encoding": {"x": {"datum": 0.4, "type": "quantitative", "scale": {"domain": [0.4, 7.6], "nice": false, "zero": false}, "axis": null},
     "y": {"field": "lo", "type": "quantitative", "title": "Relative abundance (%)", "scale": {"domain": [-6.8, 163.7], "nice": false, "zero": false}}, "y2": {"field": "hi"}}},
   {"data": {"name": "br"}, "transform": [{"filter": "datum.p==='A'"}], "mark": {"type": "rule", "color": "#707070", "strokeWidth": 0.9},
    "encoding": {"x": {"field": "a", "type": "quantitative", "scale": {"domain": [0.4, 7.6], "nice": false, "zero": false}, "axis": null}, "x2": {"field": "b"},
     "y": {"field": "y", "type": "quantitative", "title": "Relative abundance (%)", "scale": {"domain": [-6.8, 163.7], "nice": false, "zero": false}}}},
   {"data": {"name": "br"}, "transform": [{"filter": "datum.p==='A'"}, {"calculate": "(datum.a+datum.b)/2", "as": "m"}], "mark": {"type": "text", "fontSize": 7, "font": "Liberation Sans, Arial, sans-serif", "fontWeight": "bold", "baseline": "middle", "dy": 1, "color": "#222"},
    "encoding": {"text": {"field": "s"}, "x": {"field": "m", "type": "quantitative", "scale": {"domain": [0.4, 7.6], "nice": false, "zero": false}, "axis": null},
     "y": {"field": "y", "type": "quantitative", "title": "Relative abundance (%)", "scale": {"domain": [-6.8, 163.7], "nice": false, "zero": false}}}}
  ]}]}]},
{"title": {"text": "B", "anchor": "start", "font": "Liberation Sans, Arial, sans-serif", "fontSize": 13, "fontWeight": "bold", "offset": -4},
 "vconcat": [{"title": {"text": "GS02", "anchor": "middle", "dx": 14, "font": "Liberation Serif, Times New Roman, serif", "fontSize": 14, "fontWeight": "bold", "offset": 5},
  "vconcat": [{"width": 160, "height": 151,
  "resolve": {"scale": {"x": "independent"}},
  "layer": [
   {"data": {"name": "box"}, "transform": [{"filter": "datum.p==='B'"}], "mark": {"type": "bar", "fill": "transparent", "strokeWidth": 1.3, "width": {"band": 0.62}},
    "encoding": {"x": {"field": "g", "type": "ordinal", "scale": {"domain": [1,2,3,4,5,6,7], "paddingInner": 0, "paddingOuter": 0.1}, "axis": {"title": null, "labelAngle": -36, "labelFontSize": 8, "labelExpr": "['Failed Pre','Failed Post','Intermediate Pre','Intermediate Post','Cured Pre','Cured Post','Health'][datum.value-1]"}},
     "y": {"field": "q1", "type": "quantitative", "title": "Relative abundance (%)", "scale": {"domain": [-5.3, 104.3], "nice": false, "zero": false}, "axis": {"values": [0, 25, 50], "domain": false, "titleY": 104}},
     "y2": {"field": "q3"},
     "stroke": {"field": "g", "type": "nominal", "scale": {"domain": [1,2,3,4,5,6,7], "range": ["#3f8f86","#8dc63f","#7a62b6","#4d8fd8","#a31a5c","#ee7b7b","#e6aa2f"]}, "legend": null}}},
   {"data": {"name": "box"}, "transform": [{"filter": "datum.p==='B'"}], "mark": {"type": "bar", "fill": "transparent", "strokeWidth": 1.3, "width": {"band": 0.62}},
    "encoding": {"x": {"field": "g", "type": "ordinal", "scale": {"domain": [1,2,3,4,5,6,7], "paddingInner": 0, "paddingOuter": 0.1}, "axis": null},
     "y": {"field": "md", "type": "quantitative", "title": "Relative abundance (%)", "scale": {"domain": [-5.3, 104.3], "nice": false, "zero": false}},
     "y2": {"field": "md"},
     "stroke": {"field": "g", "type": "nominal", "scale": {"domain": [1,2,3,4,5,6,7], "range": ["#3f8f86","#8dc63f","#7a62b6","#4d8fd8","#a31a5c","#ee7b7b","#e6aa2f"]}, "legend": null}}},
   {"data": {"name": "box"}, "transform": [{"filter": "datum.p==='B'"}], "mark": {"type": "rule", "strokeWidth": 1.3},
    "encoding": {"x": {"field": "g", "type": "ordinal", "scale": {"domain": [1,2,3,4,5,6,7], "paddingInner": 0, "paddingOuter": 0.1}, "axis": null},
     "y": {"field": "lo", "type": "quantitative", "title": "Relative abundance (%)", "scale": {"domain": [-5.3, 104.3], "nice": false, "zero": false}},
     "y2": {"field": "q1"},
     "color": {"field": "g", "type": "nominal", "scale": {"domain": [1,2,3,4,5,6,7], "range": ["#3f8f86","#8dc63f","#7a62b6","#4d8fd8","#a31a5c","#ee7b7b","#e6aa2f"]}, "legend": null}}},
   {"data": {"name": "box"}, "transform": [{"filter": "datum.p==='B'"}], "mark": {"type": "rule", "strokeWidth": 1.3},
    "encoding": {"x": {"field": "g", "type": "ordinal", "scale": {"domain": [1,2,3,4,5,6,7], "paddingInner": 0, "paddingOuter": 0.1}, "axis": null},
     "y": {"field": "q3", "type": "quantitative", "title": "Relative abundance (%)", "scale": {"domain": [-5.3, 104.3], "nice": false, "zero": false}},
     "y2": {"field": "hi"},
     "color": {"field": "g", "type": "nominal", "scale": {"domain": [1,2,3,4,5,6,7], "range": ["#3f8f86","#8dc63f","#7a62b6","#4d8fd8","#a31a5c","#ee7b7b","#e6aa2f"]}, "legend": null}}},
   {"data": {"name": "pts"}, "transform": [{"filter": "datum.p==='B'"}], "mark": {"type": "point", "filled": true, "size": 7, "opacity": 0.85},
    "encoding": {"x": {"field": "g", "type": "ordinal", "scale": {"domain": [1,2,3,4,5,6,7], "paddingInner": 0, "paddingOuter": 0.1}, "axis": null},
     "xOffset": {"field": "k", "type": "ordinal", "scale": {"type": "point", "domain": [0,1,2,3,4,5,6,7,8,9], "padding": 3}},
     "y": {"field": "v", "type": "quantitative", "title": "Relative abundance (%)", "scale": {"domain": [-5.3, 104.3], "nice": false, "zero": false}},
     "color": {"field": "g", "type": "nominal", "scale": {"domain": [1,2,3,4,5,6,7], "range": ["#3f8f86","#8dc63f","#7a62b6","#4d8fd8","#a31a5c","#ee7b7b","#e6aa2f"]}, "legend": null}}},
   {"data": {"name": "ax"}, "transform": [{"filter": "datum.p==='B'"}], "mark": {"type": "rule", "color": "#000", "strokeWidth": 1},
    "encoding": {"x": {"datum": 0.4, "type": "quantitative", "scale": {"domain": [0.4, 7.6], "nice": false, "zero": false}, "axis": null},
     "y": {"field": "lo", "type": "quantitative", "title": "Relative abundance (%)", "scale": {"domain": [-5.3, 104.3], "nice": false, "zero": false}}, "y2": {"field": "hi"}}},
   {"data": {"name": "br"}, "transform": [{"filter": "datum.p==='B'"}], "mark": {"type": "rule", "color": "#707070", "strokeWidth": 0.9},
    "encoding": {"x": {"field": "a", "type": "quantitative", "scale": {"domain": [0.4, 7.6], "nice": false, "zero": false}, "axis": null}, "x2": {"field": "b"},
     "y": {"field": "y", "type": "quantitative", "title": "Relative abundance (%)", "scale": {"domain": [-5.3, 104.3], "nice": false, "zero": false}}}},
   {"data": {"name": "br"}, "transform": [{"filter": "datum.p==='B'"}, {"calculate": "(datum.a+datum.b)/2", "as": "m"}], "mark": {"type": "text", "fontSize": 7, "font": "Liberation Sans, Arial, sans-serif", "fontWeight": "bold", "baseline": "middle", "dy": 1, "color": "#222"},
    "encoding": {"text": {"field": "s"}, "x": {"field": "m", "type": "quantitative", "scale": {"domain": [0.4, 7.6], "nice": false, "zero": false}, "axis": null},
     "y": {"field": "y", "type": "quantitative", "title": "Relative abundance (%)", "scale": {"domain": [-5.3, 104.3], "nice": false, "zero": false}}}}
  ]}]}]},
{"title": {"text": "C", "anchor": "start", "font": "Liberation Sans, Arial, sans-serif", "fontSize": 13, "fontWeight": "bold", "offset": -4},
 "vconcat": [{"title": {"text": "GS03", "anchor": "middle", "dx": 14, "font": "Liberation Serif, Times New Roman, serif", "fontSize": 14, "fontWeight": "bold", "offset": 5},
  "vconcat": [{"width": 160, "height": 150,
  "resolve": {"scale": {"x": "independent"}},
  "layer": [
   {"data": {"name": "box"}, "transform": [{"filter": "datum.p==='C'"}], "mark": {"type": "bar", "fill": "transparent", "strokeWidth": 1.3, "width": {"band": 0.62}},
    "encoding": {"x": {"field": "g", "type": "ordinal", "scale": {"domain": [1,2,3,4,5,6,7], "paddingInner": 0, "paddingOuter": 0.1}, "axis": {"title": null, "labelAngle": -36, "labelFontSize": 8, "labelExpr": "['Failed Pre','Failed Post','Intermediate Pre','Intermediate Post','Cured Pre','Cured Post','Health'][datum.value-1]"}},
     "y": {"field": "q1", "type": "quantitative", "title": "Relative abundance (%)", "scale": {"domain": [-4.5, 120.1], "nice": false, "zero": false}, "axis": {"values": [0, 25, 50], "domain": false, "titleY": 105}},
     "y2": {"field": "q3"},
     "stroke": {"field": "g", "type": "nominal", "scale": {"domain": [1,2,3,4,5,6,7], "range": ["#3f8f86","#8dc63f","#7a62b6","#4d8fd8","#a31a5c","#ee7b7b","#e6aa2f"]}, "legend": null}}},
   {"data": {"name": "box"}, "transform": [{"filter": "datum.p==='C'"}], "mark": {"type": "bar", "fill": "transparent", "strokeWidth": 1.3, "width": {"band": 0.62}},
    "encoding": {"x": {"field": "g", "type": "ordinal", "scale": {"domain": [1,2,3,4,5,6,7], "paddingInner": 0, "paddingOuter": 0.1}, "axis": null},
     "y": {"field": "md", "type": "quantitative", "title": "Relative abundance (%)", "scale": {"domain": [-4.5, 120.1], "nice": false, "zero": false}},
     "y2": {"field": "md"},
     "stroke": {"field": "g", "type": "nominal", "scale": {"domain": [1,2,3,4,5,6,7], "range": ["#3f8f86","#8dc63f","#7a62b6","#4d8fd8","#a31a5c","#ee7b7b","#e6aa2f"]}, "legend": null}}},
   {"data": {"name": "box"}, "transform": [{"filter": "datum.p==='C'"}], "mark": {"type": "rule", "strokeWidth": 1.3},
    "encoding": {"x": {"field": "g", "type": "ordinal", "scale": {"domain": [1,2,3,4,5,6,7], "paddingInner": 0, "paddingOuter": 0.1}, "axis": null},
     "y": {"field": "lo", "type": "quantitative", "title": "Relative abundance (%)", "scale": {"domain": [-4.5, 120.1], "nice": false, "zero": false}},
     "y2": {"field": "q1"},
     "color": {"field": "g", "type": "nominal", "scale": {"domain": [1,2,3,4,5,6,7], "range": ["#3f8f86","#8dc63f","#7a62b6","#4d8fd8","#a31a5c","#ee7b7b","#e6aa2f"]}, "legend": null}}},
   {"data": {"name": "box"}, "transform": [{"filter": "datum.p==='C'"}], "mark": {"type": "rule", "strokeWidth": 1.3},
    "encoding": {"x": {"field": "g", "type": "ordinal", "scale": {"domain": [1,2,3,4,5,6,7], "paddingInner": 0, "paddingOuter": 0.1}, "axis": null},
     "y": {"field": "q3", "type": "quantitative", "title": "Relative abundance (%)", "scale": {"domain": [-4.5, 120.1], "nice": false, "zero": false}},
     "y2": {"field": "hi"},
     "color": {"field": "g", "type": "nominal", "scale": {"domain": [1,2,3,4,5,6,7], "range": ["#3f8f86","#8dc63f","#7a62b6","#4d8fd8","#a31a5c","#ee7b7b","#e6aa2f"]}, "legend": null}}},
   {"data": {"name": "pts"}, "transform": [{"filter": "datum.p==='C'"}], "mark": {"type": "point", "filled": true, "size": 7, "opacity": 0.85},
    "encoding": {"x": {"field": "g", "type": "ordinal", "scale": {"domain": [1,2,3,4,5,6,7], "paddingInner": 0, "paddingOuter": 0.1}, "axis": null},
     "xOffset": {"field": "k", "type": "ordinal", "scale": {"type": "point", "domain": [0,1,2,3,4,5,6,7,8,9], "padding": 3}},
     "y": {"field": "v", "type": "quantitative", "title": "Relative abundance (%)", "scale": {"domain": [-4.5, 120.1], "nice": false, "zero": false}},
     "color": {"field": "g", "type": "nominal", "scale": {"domain": [1,2,3,4,5,6,7], "range": ["#3f8f86","#8dc63f","#7a62b6","#4d8fd8","#a31a5c","#ee7b7b","#e6aa2f"]}, "legend": null}}},
   {"data": {"name": "ax"}, "transform": [{"filter": "datum.p==='C'"}], "mark": {"type": "rule", "color": "#000", "strokeWidth": 1},
    "encoding": {"x": {"datum": 0.4, "type": "quantitative", "scale": {"domain": [0.4, 7.6], "nice": false, "zero": false}, "axis": null},
     "y": {"field": "lo", "type": "quantitative", "title": "Relative abundance (%)", "scale": {"domain": [-4.5, 120.1], "nice": false, "zero": false}}, "y2": {"field": "hi"}}},
   {"data": {"name": "br"}, "transform": [{"filter": "datum.p==='C'"}], "mark": {"type": "rule", "color": "#707070", "strokeWidth": 0.9},
    "encoding": {"x": {"field": "a", "type": "quantitative", "scale": {"domain": [0.4, 7.6], "nice": false, "zero": false}, "axis": null}, "x2": {"field": "b"},
     "y": {"field": "y", "type": "quantitative", "title": "Relative abundance (%)", "scale": {"domain": [-4.5, 120.1], "nice": false, "zero": false}}}},
   {"data": {"name": "br"}, "transform": [{"filter": "datum.p==='C'"}, {"calculate": "(datum.a+datum.b)/2", "as": "m"}], "mark": {"type": "text", "fontSize": 7, "font": "Liberation Sans, Arial, sans-serif", "fontWeight": "bold", "baseline": "middle", "dy": 1, "color": "#222"},
    "encoding": {"text": {"field": "s"}, "x": {"field": "m", "type": "quantitative", "scale": {"domain": [0.4, 7.6], "nice": false, "zero": false}, "axis": null},
     "y": {"field": "y", "type": "quantitative", "title": "Relative abundance (%)", "scale": {"domain": [-4.5, 120.1], "nice": false, "zero": false}}}}
  ]}]}]}
], "spacing": 44}
], "spacing": 35},
{"hconcat": [
{"title": {"text": "D", "anchor": "start", "font": "Liberation Sans, Arial, sans-serif", "fontSize": 13, "fontWeight": "bold", "offset": -4},
 "vconcat": [{"title": {"text": "GS05", "anchor": "middle", "dx": 20, "font": "Liberation Serif, Times New Roman, serif", "fontSize": 14, "fontWeight": "bold", "offset": 5},
  "vconcat": [{"width": 162, "height": 153,
  "resolve": {"scale": {"x": "independent"}},
  "layer": [
   {"data": {"name": "box"}, "transform": [{"filter": "datum.p==='D'"}], "mark": {"type": "bar", "fill": "transparent", "strokeWidth": 1.3, "width": {"band": 0.62}},
    "encoding": {"x": {"field": "g", "type": "ordinal", "scale": {"domain": [1,2,3,4,5,6,7], "paddingInner": 0, "paddingOuter": 0.1}, "axis": {"title": null, "labelAngle": -36, "labelFontSize": 8, "labelExpr": "['Failed Pre','Failed Post','Intermediate Pre','Intermediate Post','Cured Pre','Cured Post','Health'][datum.value-1]"}},
     "y": {"field": "q1", "type": "quantitative", "title": "Relative abundance (%)", "scale": {"domain": [-1.4, 34.6], "nice": false, "zero": false}, "axis": {"values": [0, 10, 20], "domain": false, "titleY": 105}},
     "y2": {"field": "q3"},
     "stroke": {"field": "g", "type": "nominal", "scale": {"domain": [1,2,3,4,5,6,7], "range": ["#3f8f86","#8dc63f","#7a62b6","#4d8fd8","#a31a5c","#ee7b7b","#e6aa2f"]}, "legend": null}}},
   {"data": {"name": "box"}, "transform": [{"filter": "datum.p==='D'"}], "mark": {"type": "bar", "fill": "transparent", "strokeWidth": 1.3, "width": {"band": 0.62}},
    "encoding": {"x": {"field": "g", "type": "ordinal", "scale": {"domain": [1,2,3,4,5,6,7], "paddingInner": 0, "paddingOuter": 0.1}, "axis": null},
     "y": {"field": "md", "type": "quantitative", "title": "Relative abundance (%)", "scale": {"domain": [-1.4, 34.6], "nice": false, "zero": false}},
     "y2": {"field": "md"},
     "stroke": {"field": "g", "type": "nominal", "scale": {"domain": [1,2,3,4,5,6,7], "range": ["#3f8f86","#8dc63f","#7a62b6","#4d8fd8","#a31a5c","#ee7b7b","#e6aa2f"]}, "legend": null}}},
   {"data": {"name": "box"}, "transform": [{"filter": "datum.p==='D'"}], "mark": {"type": "rule", "strokeWidth": 1.3},
    "encoding": {"x": {"field": "g", "type": "ordinal", "scale": {"domain": [1,2,3,4,5,6,7], "paddingInner": 0, "paddingOuter": 0.1}, "axis": null},
     "y": {"field": "lo", "type": "quantitative", "title": "Relative abundance (%)", "scale": {"domain": [-1.4, 34.6], "nice": false, "zero": false}},
     "y2": {"field": "q1"},
     "color": {"field": "g", "type": "nominal", "scale": {"domain": [1,2,3,4,5,6,7], "range": ["#3f8f86","#8dc63f","#7a62b6","#4d8fd8","#a31a5c","#ee7b7b","#e6aa2f"]}, "legend": null}}},
   {"data": {"name": "box"}, "transform": [{"filter": "datum.p==='D'"}], "mark": {"type": "rule", "strokeWidth": 1.3},
    "encoding": {"x": {"field": "g", "type": "ordinal", "scale": {"domain": [1,2,3,4,5,6,7], "paddingInner": 0, "paddingOuter": 0.1}, "axis": null},
     "y": {"field": "q3", "type": "quantitative", "title": "Relative abundance (%)", "scale": {"domain": [-1.4, 34.6], "nice": false, "zero": false}},
     "y2": {"field": "hi"},
     "color": {"field": "g", "type": "nominal", "scale": {"domain": [1,2,3,4,5,6,7], "range": ["#3f8f86","#8dc63f","#7a62b6","#4d8fd8","#a31a5c","#ee7b7b","#e6aa2f"]}, "legend": null}}},
   {"data": {"name": "pts"}, "transform": [{"filter": "datum.p==='D'"}], "mark": {"type": "point", "filled": true, "size": 7, "opacity": 0.85},
    "encoding": {"x": {"field": "g", "type": "ordinal", "scale": {"domain": [1,2,3,4,5,6,7], "paddingInner": 0, "paddingOuter": 0.1}, "axis": null},
     "xOffset": {"field": "k", "type": "ordinal", "scale": {"type": "point", "domain": [0,1,2,3,4,5,6,7,8,9], "padding": 3}},
     "y": {"field": "v", "type": "quantitative", "title": "Relative abundance (%)", "scale": {"domain": [-1.4, 34.6], "nice": false, "zero": false}},
     "color": {"field": "g", "type": "nominal", "scale": {"domain": [1,2,3,4,5,6,7], "range": ["#3f8f86","#8dc63f","#7a62b6","#4d8fd8","#a31a5c","#ee7b7b","#e6aa2f"]}, "legend": null}}},
   {"data": {"name": "ax"}, "transform": [{"filter": "datum.p==='D'"}], "mark": {"type": "rule", "color": "#000", "strokeWidth": 1},
    "encoding": {"x": {"datum": 0.4, "type": "quantitative", "scale": {"domain": [0.4, 7.6], "nice": false, "zero": false}, "axis": null},
     "y": {"field": "lo", "type": "quantitative", "title": "Relative abundance (%)", "scale": {"domain": [-1.4, 34.6], "nice": false, "zero": false}}, "y2": {"field": "hi"}}},
   {"data": {"name": "br"}, "transform": [{"filter": "datum.p==='D'"}], "mark": {"type": "rule", "color": "#707070", "strokeWidth": 0.9},
    "encoding": {"x": {"field": "a", "type": "quantitative", "scale": {"domain": [0.4, 7.6], "nice": false, "zero": false}, "axis": null}, "x2": {"field": "b"},
     "y": {"field": "y", "type": "quantitative", "title": "Relative abundance (%)", "scale": {"domain": [-1.4, 34.6], "nice": false, "zero": false}}}},
   {"data": {"name": "br"}, "transform": [{"filter": "datum.p==='D'"}, {"calculate": "(datum.a+datum.b)/2", "as": "m"}], "mark": {"type": "text", "fontSize": 7, "font": "Liberation Sans, Arial, sans-serif", "fontWeight": "bold", "baseline": "middle", "dy": 1, "color": "#222"},
    "encoding": {"text": {"field": "s"}, "x": {"field": "m", "type": "quantitative", "scale": {"domain": [0.4, 7.6], "nice": false, "zero": false}, "axis": null},
     "y": {"field": "y", "type": "quantitative", "title": "Relative abundance (%)", "scale": {"domain": [-1.4, 34.6], "nice": false, "zero": false}}}}
  ]}]}]},
{"title": {"text": "E", "anchor": "start", "font": "Liberation Sans, Arial, sans-serif", "fontSize": 13, "fontWeight": "bold", "offset": -4},
 "vconcat": [{"title": {"text": "GS07", "anchor": "middle", "dx": 14, "font": "Liberation Serif, Times New Roman, serif", "fontSize": 14, "fontWeight": "bold", "offset": 5},
  "vconcat": [{"width": 162, "height": 150,
  "resolve": {"scale": {"x": "independent"}},
  "layer": [
   {"data": {"name": "box"}, "transform": [{"filter": "datum.p==='E'"}], "mark": {"type": "bar", "fill": "transparent", "strokeWidth": 1.3, "width": {"band": 0.62}},
    "encoding": {"x": {"field": "g", "type": "ordinal", "scale": {"domain": [1,2,3,4,5,6,7], "paddingInner": 0, "paddingOuter": 0.1}, "axis": {"title": null, "labelAngle": -36, "labelFontSize": 8, "labelExpr": "['Failed Pre','Failed Post','Intermediate Pre','Intermediate Post','Cured Pre','Cured Post','Health'][datum.value-1]"}},
     "y": {"field": "q1", "type": "quantitative", "title": "Relative abundance (%)", "scale": {"domain": [-1.7, 40], "nice": false, "zero": false}, "axis": {"values": [0, 10, 20], "domain": false, "titleY": 101}},
     "y2": {"field": "q3"},
     "stroke": {"field": "g", "type": "nominal", "scale": {"domain": [1,2,3,4,5,6,7], "range": ["#3f8f86","#8dc63f","#7a62b6","#4d8fd8","#a31a5c","#ee7b7b","#e6aa2f"]}, "legend": null}}},
   {"data": {"name": "box"}, "transform": [{"filter": "datum.p==='E'"}], "mark": {"type": "bar", "fill": "transparent", "strokeWidth": 1.3, "width": {"band": 0.62}},
    "encoding": {"x": {"field": "g", "type": "ordinal", "scale": {"domain": [1,2,3,4,5,6,7], "paddingInner": 0, "paddingOuter": 0.1}, "axis": null},
     "y": {"field": "md", "type": "quantitative", "title": "Relative abundance (%)", "scale": {"domain": [-1.7, 40], "nice": false, "zero": false}},
     "y2": {"field": "md"},
     "stroke": {"field": "g", "type": "nominal", "scale": {"domain": [1,2,3,4,5,6,7], "range": ["#3f8f86","#8dc63f","#7a62b6","#4d8fd8","#a31a5c","#ee7b7b","#e6aa2f"]}, "legend": null}}},
   {"data": {"name": "box"}, "transform": [{"filter": "datum.p==='E'"}], "mark": {"type": "rule", "strokeWidth": 1.3},
    "encoding": {"x": {"field": "g", "type": "ordinal", "scale": {"domain": [1,2,3,4,5,6,7], "paddingInner": 0, "paddingOuter": 0.1}, "axis": null},
     "y": {"field": "lo", "type": "quantitative", "title": "Relative abundance (%)", "scale": {"domain": [-1.7, 40], "nice": false, "zero": false}},
     "y2": {"field": "q1"},
     "color": {"field": "g", "type": "nominal", "scale": {"domain": [1,2,3,4,5,6,7], "range": ["#3f8f86","#8dc63f","#7a62b6","#4d8fd8","#a31a5c","#ee7b7b","#e6aa2f"]}, "legend": null}}},
   {"data": {"name": "box"}, "transform": [{"filter": "datum.p==='E'"}], "mark": {"type": "rule", "strokeWidth": 1.3},
    "encoding": {"x": {"field": "g", "type": "ordinal", "scale": {"domain": [1,2,3,4,5,6,7], "paddingInner": 0, "paddingOuter": 0.1}, "axis": null},
     "y": {"field": "q3", "type": "quantitative", "title": "Relative abundance (%)", "scale": {"domain": [-1.7, 40], "nice": false, "zero": false}},
     "y2": {"field": "hi"},
     "color": {"field": "g", "type": "nominal", "scale": {"domain": [1,2,3,4,5,6,7], "range": ["#3f8f86","#8dc63f","#7a62b6","#4d8fd8","#a31a5c","#ee7b7b","#e6aa2f"]}, "legend": null}}},
   {"data": {"name": "pts"}, "transform": [{"filter": "datum.p==='E'"}], "mark": {"type": "point", "filled": true, "size": 7, "opacity": 0.85},
    "encoding": {"x": {"field": "g", "type": "ordinal", "scale": {"domain": [1,2,3,4,5,6,7], "paddingInner": 0, "paddingOuter": 0.1}, "axis": null},
     "xOffset": {"field": "k", "type": "ordinal", "scale": {"type": "point", "domain": [0,1,2,3,4,5,6,7,8,9], "padding": 3}},
     "y": {"field": "v", "type": "quantitative", "title": "Relative abundance (%)", "scale": {"domain": [-1.7, 40], "nice": false, "zero": false}},
     "color": {"field": "g", "type": "nominal", "scale": {"domain": [1,2,3,4,5,6,7], "range": ["#3f8f86","#8dc63f","#7a62b6","#4d8fd8","#a31a5c","#ee7b7b","#e6aa2f"]}, "legend": null}}},
   {"data": {"name": "ax"}, "transform": [{"filter": "datum.p==='E'"}], "mark": {"type": "rule", "color": "#000", "strokeWidth": 1},
    "encoding": {"x": {"datum": 0.4, "type": "quantitative", "scale": {"domain": [0.4, 7.6], "nice": false, "zero": false}, "axis": null},
     "y": {"field": "lo", "type": "quantitative", "title": "Relative abundance (%)", "scale": {"domain": [-1.7, 40], "nice": false, "zero": false}}, "y2": {"field": "hi"}}},
   {"data": {"name": "br"}, "transform": [{"filter": "datum.p==='E'"}], "mark": {"type": "rule", "color": "#707070", "strokeWidth": 0.9},
    "encoding": {"x": {"field": "a", "type": "quantitative", "scale": {"domain": [0.4, 7.6], "nice": false, "zero": false}, "axis": null}, "x2": {"field": "b"},
     "y": {"field": "y", "type": "quantitative", "title": "Relative abundance (%)", "scale": {"domain": [-1.7, 40], "nice": false, "zero": false}}}},
   {"data": {"name": "br"}, "transform": [{"filter": "datum.p==='E'"}, {"calculate": "(datum.a+datum.b)/2", "as": "m"}], "mark": {"type": "text", "fontSize": 7, "font": "Liberation Sans, Arial, sans-serif", "fontWeight": "bold", "baseline": "middle", "dy": 1, "color": "#222"},
    "encoding": {"text": {"field": "s"}, "x": {"field": "m", "type": "quantitative", "scale": {"domain": [0.4, 7.6], "nice": false, "zero": false}, "axis": null},
     "y": {"field": "y", "type": "quantitative", "title": "Relative abundance (%)", "scale": {"domain": [-1.7, 40], "nice": false, "zero": false}}}}
  ]}]}]},
{"title": {"text": "F", "anchor": "start", "font": "Liberation Sans, Arial, sans-serif", "fontSize": 13, "fontWeight": "bold", "offset": -4},
 "vconcat": [{"title": {"text": "GS08", "anchor": "middle", "dx": 6, "font": "Liberation Serif, Times New Roman, serif", "fontSize": 14, "fontWeight": "bold", "offset": 5},
  "vconcat": [{"width": 155, "height": 146,
  "resolve": {"scale": {"x": "independent"}},
  "layer": [
   {"data": {"name": "box"}, "transform": [{"filter": "datum.p==='F'"}], "mark": {"type": "bar", "fill": "transparent", "strokeWidth": 1.3, "width": {"band": 0.62}},
    "encoding": {"x": {"field": "g", "type": "ordinal", "scale": {"domain": [1,2,3,4,5,6,7], "paddingInner": 0, "paddingOuter": 0.1}, "axis": {"title": null, "labelAngle": -36, "labelFontSize": 8, "labelExpr": "['Failed Pre','Failed Post','Intermediate Pre','Intermediate Post','Cured Pre','Cured Post','Health'][datum.value-1]"}},
     "y": {"field": "q1", "type": "quantitative", "title": "Relative abundance (%)", "scale": {"domain": [-0.024, 0.502], "nice": false, "zero": false}, "axis": {"values": [0, 0.1, 0.2, 0.3], "format": ".1f", "domain": false, "titleY": 98}},
     "y2": {"field": "q3"},
     "stroke": {"field": "g", "type": "nominal", "scale": {"domain": [1,2,3,4,5,6,7], "range": ["#3f8f86","#8dc63f","#7a62b6","#4d8fd8","#a31a5c","#ee7b7b","#e6aa2f"]}, "legend": null}}},
   {"data": {"name": "box"}, "transform": [{"filter": "datum.p==='F'"}], "mark": {"type": "bar", "fill": "transparent", "strokeWidth": 1.3, "width": {"band": 0.62}},
    "encoding": {"x": {"field": "g", "type": "ordinal", "scale": {"domain": [1,2,3,4,5,6,7], "paddingInner": 0, "paddingOuter": 0.1}, "axis": null},
     "y": {"field": "md", "type": "quantitative", "title": "Relative abundance (%)", "scale": {"domain": [-0.024, 0.502], "nice": false, "zero": false}},
     "y2": {"field": "md"},
     "stroke": {"field": "g", "type": "nominal", "scale": {"domain": [1,2,3,4,5,6,7], "range": ["#3f8f86","#8dc63f","#7a62b6","#4d8fd8","#a31a5c","#ee7b7b","#e6aa2f"]}, "legend": null}}},
   {"data": {"name": "box"}, "transform": [{"filter": "datum.p==='F'"}], "mark": {"type": "rule", "strokeWidth": 1.3},
    "encoding": {"x": {"field": "g", "type": "ordinal", "scale": {"domain": [1,2,3,4,5,6,7], "paddingInner": 0, "paddingOuter": 0.1}, "axis": null},
     "y": {"field": "lo", "type": "quantitative", "title": "Relative abundance (%)", "scale": {"domain": [-0.024, 0.502], "nice": false, "zero": false}},
     "y2": {"field": "q1"},
     "color": {"field": "g", "type": "nominal", "scale": {"domain": [1,2,3,4,5,6,7], "range": ["#3f8f86","#8dc63f","#7a62b6","#4d8fd8","#a31a5c","#ee7b7b","#e6aa2f"]}, "legend": null}}},
   {"data": {"name": "box"}, "transform": [{"filter": "datum.p==='F'"}], "mark": {"type": "rule", "strokeWidth": 1.3},
    "encoding": {"x": {"field": "g", "type": "ordinal", "scale": {"domain": [1,2,3,4,5,6,7], "paddingInner": 0, "paddingOuter": 0.1}, "axis": null},
     "y": {"field": "q3", "type": "quantitative", "title": "Relative abundance (%)", "scale": {"domain": [-0.024, 0.502], "nice": false, "zero": false}},
     "y2": {"field": "hi"},
     "color": {"field": "g", "type": "nominal", "scale": {"domain": [1,2,3,4,5,6,7], "range": ["#3f8f86","#8dc63f","#7a62b6","#4d8fd8","#a31a5c","#ee7b7b","#e6aa2f"]}, "legend": null}}},
   {"data": {"name": "pts"}, "transform": [{"filter": "datum.p==='F'"}], "mark": {"type": "point", "filled": true, "size": 7, "opacity": 0.85},
    "encoding": {"x": {"field": "g", "type": "ordinal", "scale": {"domain": [1,2,3,4,5,6,7], "paddingInner": 0, "paddingOuter": 0.1}, "axis": null},
     "xOffset": {"field": "k", "type": "ordinal", "scale": {"type": "point", "domain": [0,1,2,3,4,5,6,7,8,9], "padding": 3}},
     "y": {"field": "v", "type": "quantitative", "title": "Relative abundance (%)", "scale": {"domain": [-0.024, 0.502], "nice": false, "zero": false}},
     "color": {"field": "g", "type": "nominal", "scale": {"domain": [1,2,3,4,5,6,7], "range": ["#3f8f86","#8dc63f","#7a62b6","#4d8fd8","#a31a5c","#ee7b7b","#e6aa2f"]}, "legend": null}}},
   {"data": {"name": "ax"}, "transform": [{"filter": "datum.p==='F'"}], "mark": {"type": "rule", "color": "#000", "strokeWidth": 1},
    "encoding": {"x": {"datum": 0.4, "type": "quantitative", "scale": {"domain": [0.4, 7.6], "nice": false, "zero": false}, "axis": null},
     "y": {"field": "lo", "type": "quantitative", "title": "Relative abundance (%)", "scale": {"domain": [-0.024, 0.502], "nice": false, "zero": false}}, "y2": {"field": "hi"}}},
   {"data": {"name": "br"}, "transform": [{"filter": "datum.p==='F'"}], "mark": {"type": "rule", "color": "#707070", "strokeWidth": 0.9},
    "encoding": {"x": {"field": "a", "type": "quantitative", "scale": {"domain": [0.4, 7.6], "nice": false, "zero": false}, "axis": null}, "x2": {"field": "b"},
     "y": {"field": "y", "type": "quantitative", "title": "Relative abundance (%)", "scale": {"domain": [-0.024, 0.502], "nice": false, "zero": false}}}},
   {"data": {"name": "br"}, "transform": [{"filter": "datum.p==='F'"}, {"calculate": "(datum.a+datum.b)/2", "as": "m"}], "mark": {"type": "text", "fontSize": 7, "font": "Liberation Sans, Arial, sans-serif", "fontWeight": "bold", "baseline": "middle", "dy": 1, "color": "#222"},
    "encoding": {"text": {"field": "s"}, "x": {"field": "m", "type": "quantitative", "scale": {"domain": [0.4, 7.6], "nice": false, "zero": false}, "axis": null},
     "y": {"field": "y", "type": "quantitative", "title": "Relative abundance (%)", "scale": {"domain": [-0.024, 0.502], "nice": false, "zero": false}}}}
  ]}]}]},
{"title": {"text": "G", "anchor": "start", "font": "Liberation Sans, Arial, sans-serif", "fontSize": 13, "fontWeight": "bold", "offset": -4},
 "vconcat": [{"title": {"text": "GS09", "anchor": "middle", "dx": 3, "font": "Liberation Serif, Times New Roman, serif", "fontSize": 14, "fontWeight": "bold", "offset": 5},
  "vconcat": [{"width": 158, "height": 140,
  "resolve": {"scale": {"x": "independent"}},
  "layer": [
   {"data": {"name": "box"}, "transform": [{"filter": "datum.p==='G'"}], "mark": {"type": "bar", "fill": "transparent", "strokeWidth": 1.3, "width": {"band": 0.62}},
    "encoding": {"x": {"field": "g", "type": "ordinal", "scale": {"domain": [1,2,3,4,5,6,7], "paddingInner": 0, "paddingOuter": 0.1}, "axis": {"title": null, "labelAngle": -36, "labelFontSize": 8, "labelExpr": "['Failed Pre','Failed Post','Intermediate Pre','Intermediate Post','Cured Pre','Cured Post','Health'][datum.value-1]"}},
     "y": {"field": "q1", "type": "quantitative", "title": "Relative abundance (%)", "scale": {"domain": [-0.23, 4.29], "nice": false, "zero": false}, "axis": {"values": [0, 1, 2], "domain": false, "titleY": 94}},
     "y2": {"field": "q3"},
     "stroke": {"field": "g", "type": "nominal", "scale": {"domain": [1,2,3,4,5,6,7], "range": ["#3f8f86","#8dc63f","#7a62b6","#4d8fd8","#a31a5c","#ee7b7b","#e6aa2f"]}, "legend": null}}},
   {"data": {"name": "box"}, "transform": [{"filter": "datum.p==='G'"}], "mark": {"type": "bar", "fill": "transparent", "strokeWidth": 1.3, "width": {"band": 0.62}},
    "encoding": {"x": {"field": "g", "type": "ordinal", "scale": {"domain": [1,2,3,4,5,6,7], "paddingInner": 0, "paddingOuter": 0.1}, "axis": null},
     "y": {"field": "md", "type": "quantitative", "title": "Relative abundance (%)", "scale": {"domain": [-0.23, 4.29], "nice": false, "zero": false}},
     "y2": {"field": "md"},
     "stroke": {"field": "g", "type": "nominal", "scale": {"domain": [1,2,3,4,5,6,7], "range": ["#3f8f86","#8dc63f","#7a62b6","#4d8fd8","#a31a5c","#ee7b7b","#e6aa2f"]}, "legend": null}}},
   {"data": {"name": "box"}, "transform": [{"filter": "datum.p==='G'"}], "mark": {"type": "rule", "strokeWidth": 1.3},
    "encoding": {"x": {"field": "g", "type": "ordinal", "scale": {"domain": [1,2,3,4,5,6,7], "paddingInner": 0, "paddingOuter": 0.1}, "axis": null},
     "y": {"field": "lo", "type": "quantitative", "title": "Relative abundance (%)", "scale": {"domain": [-0.23, 4.29], "nice": false, "zero": false}},
     "y2": {"field": "q1"},
     "color": {"field": "g", "type": "nominal", "scale": {"domain": [1,2,3,4,5,6,7], "range": ["#3f8f86","#8dc63f","#7a62b6","#4d8fd8","#a31a5c","#ee7b7b","#e6aa2f"]}, "legend": null}}},
   {"data": {"name": "box"}, "transform": [{"filter": "datum.p==='G'"}], "mark": {"type": "rule", "strokeWidth": 1.3},
    "encoding": {"x": {"field": "g", "type": "ordinal", "scale": {"domain": [1,2,3,4,5,6,7], "paddingInner": 0, "paddingOuter": 0.1}, "axis": null},
     "y": {"field": "q3", "type": "quantitative", "title": "Relative abundance (%)", "scale": {"domain": [-0.23, 4.29], "nice": false, "zero": false}},
     "y2": {"field": "hi"},
     "color": {"field": "g", "type": "nominal", "scale": {"domain": [1,2,3,4,5,6,7], "range": ["#3f8f86","#8dc63f","#7a62b6","#4d8fd8","#a31a5c","#ee7b7b","#e6aa2f"]}, "legend": null}}},
   {"data": {"name": "pts"}, "transform": [{"filter": "datum.p==='G'"}], "mark": {"type": "point", "filled": true, "size": 7, "opacity": 0.85},
    "encoding": {"x": {"field": "g", "type": "ordinal", "scale": {"domain": [1,2,3,4,5,6,7], "paddingInner": 0, "paddingOuter": 0.1}, "axis": null},
     "xOffset": {"field": "k", "type": "ordinal", "scale": {"type": "point", "domain": [0,1,2,3,4,5,6,7,8,9], "padding": 3}},
     "y": {"field": "v", "type": "quantitative", "title": "Relative abundance (%)", "scale": {"domain": [-0.23, 4.29], "nice": false, "zero": false}},
     "color": {"field": "g", "type": "nominal", "scale": {"domain": [1,2,3,4,5,6,7], "range": ["#3f8f86","#8dc63f","#7a62b6","#4d8fd8","#a31a5c","#ee7b7b","#e6aa2f"]}, "legend": null}}},
   {"data": {"name": "ax"}, "transform": [{"filter": "datum.p==='G'"}], "mark": {"type": "rule", "color": "#000", "strokeWidth": 1},
    "encoding": {"x": {"datum": 0.4, "type": "quantitative", "scale": {"domain": [0.4, 7.6], "nice": false, "zero": false}, "axis": null},
     "y": {"field": "lo", "type": "quantitative", "title": "Relative abundance (%)", "scale": {"domain": [-0.23, 4.29], "nice": false, "zero": false}}, "y2": {"field": "hi"}}},
   {"data": {"name": "br"}, "transform": [{"filter": "datum.p==='G'"}], "mark": {"type": "rule", "color": "#707070", "strokeWidth": 0.9},
    "encoding": {"x": {"field": "a", "type": "quantitative", "scale": {"domain": [0.4, 7.6], "nice": false, "zero": false}, "axis": null}, "x2": {"field": "b"},
     "y": {"field": "y", "type": "quantitative", "title": "Relative abundance (%)", "scale": {"domain": [-0.23, 4.29], "nice": false, "zero": false}}}},
   {"data": {"name": "br"}, "transform": [{"filter": "datum.p==='G'"}, {"calculate": "(datum.a+datum.b)/2", "as": "m"}], "mark": {"type": "text", "fontSize": 7, "font": "Liberation Sans, Arial, sans-serif", "fontWeight": "bold", "baseline": "middle", "dy": 1, "color": "#222"},
    "encoding": {"text": {"field": "s"}, "x": {"field": "m", "type": "quantitative", "scale": {"domain": [0.4, 7.6], "nice": false, "zero": false}, "axis": null},
     "y": {"field": "y", "type": "quantitative", "title": "Relative abundance (%)", "scale": {"domain": [-0.23, 4.29], "nice": false, "zero": false}}}}
  ]}]}]}
], "spacing": 8}
],
"spacing": 10,
"config": {
 "view": {"stroke": null},
 "axis": {"domainColor": "#000", "tickColor": "#000", "labelColor": "#000", "titleColor": "#000", "labelFont": "Liberation Serif, Times New Roman, serif", "titleFont": "Liberation Serif, Times New Roman, serif", "labelFontWeight": "bold", "titleFontWeight": "bold", "labelFontSize": 9, "titleFontSize": 10, "grid": false, "tickSize": 3, "domainWidth": 1, "titlePadding": 3, "labelPadding": 2, "labelOverlap": false},
 "title": {"color": "#000"}
}
}
